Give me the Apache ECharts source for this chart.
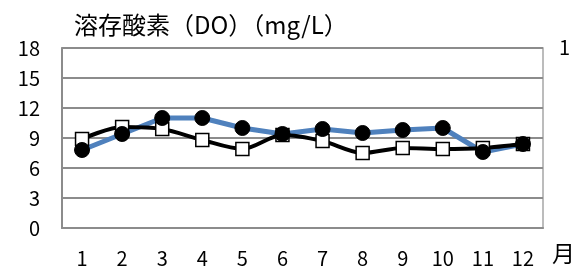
<!DOCTYPE html>
<html>
<head>
<meta charset="utf-8"/>
<title>溶存酸素</title>
<script src="https://cdn.jsdelivr.net/npm/echarts@6/dist/echarts.min.js"></script>
<style>
  html, body { margin: 0; padding: 0; background: #fff; }
</style>
</head>
<body>
<div id="main" style="width: 574px;height:273px;"></div>
<script type="text/javascript">
    // 月
    var months = ['1','2','3','4','5','6','7','8','9','10','11','12'];
    // 系列1（青線・黒丸）
    var seriesA = [7.8, 9.4, 11.0, 11.0, 10.0, 9.4, 9.9, 9.5, 9.8, 10.0, 7.6, 8.4];
    // 系列2（黒線・白四角）
    var seriesB = [8.9, 10.1, 9.9, 8.8, 7.9, 9.3, 8.7, 7.5, 8.0, 7.9, 8.0, 8.4];

    var font = '"Noto Sans CJK JP", "Noto Sans", sans-serif';
    var myChart = echarts.init(document.getElementById('main'));

    var option = {
        animation: false,
        textStyle: { fontFamily: font },
        title: {
            text: '溶存酸素（DO）（mg/L）',
            left: 69,
            top: 8,
            textStyle: { fontSize: 24, fontWeight: 'normal', color: '#000', fontFamily: font }
        },
        grid: {
            left: 62, right: 31, top: 48, bottom: 45,
            show: true, borderColor: '#a6a6a6', borderWidth: 1.5
        },
        xAxis: {
            type: 'category',
            data: months,
            boundaryGap: true,
            axisLine: { lineStyle: { color: '#8c8c8c', width: 2 } },
            axisTick: { inside: true, length: 5, lineStyle: { color: '#8c8c8c', width: 1.5 } },
            axisLabel: { color: '#000', fontSize: 20, margin: 20, fontFamily: font }
        },
        yAxis: {
            type: 'value',
            min: 0, max: 18, interval: 3,
            axisLine: { show: true, lineStyle: { color: '#8c8c8c', width: 2 } },
            axisTick: { show: false },
            splitLine: { lineStyle: { color: '#8c8c8c', width: 2 } },
            axisLabel: { color: '#000', fontSize: 20, margin: 22, fontFamily: font }
        },
        graphic: [
            { type: 'text', left: 552, top: 242, style: { text: '月', fontSize: 23, fill: '#000', fontFamily: font } },
            { type: 'text', left: 559, top: 37, style: { text: '1', fontSize: 20, fill: '#000', fontFamily: font } }
        ],
        series: [
            // 青線（線のみ）
            {
                name: 'A',
                type: 'line',
                data: seriesA,
                showSymbol: false,
                symbol: 'none',
                lineStyle: { color: '#4f81bd', width: 5 },
                z: 1
            },
            {
                name: 'B',
                type: 'line',
                data: seriesB,
                smooth: 0.3,
                symbol: 'rect',
                symbolSize: 13,
                lineStyle: { color: '#000', width: 4 },
                itemStyle: { color: '#fff', borderColor: '#000', borderWidth: 1.5 },
                z: 2
            },
            // 黒丸（マーカーのみ、一番上に描く）
            {
                name: 'A',
                type: 'line',
                data: seriesA,
                symbol: 'circle',
                symbolSize: 15,
                lineStyle: { width: 0, opacity: 0 },
                itemStyle: { color: '#000', borderColor: '#000' },
                z: 3
            }
        ]
    };

    myChart.setOption(option);
</script>
</body>
</html>
